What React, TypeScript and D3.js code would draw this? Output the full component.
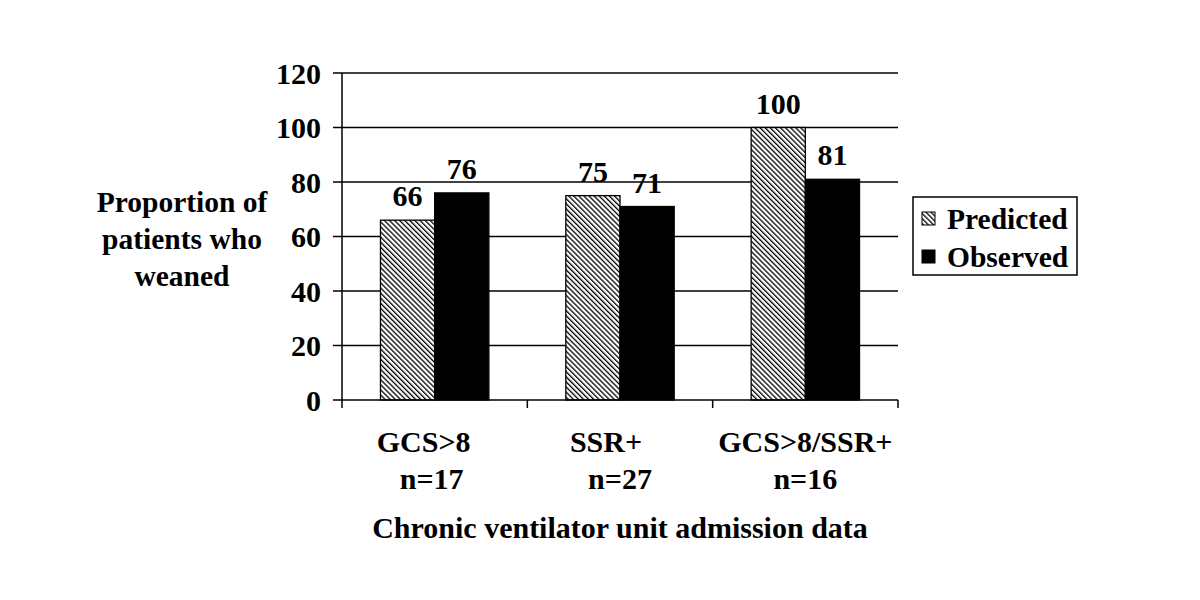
import React from "react";
import * as d3 from "d3";

const categories = ["GCS>8", "SSR+", "GCS>8/SSR+"];
const subLabels = ["n=17", "n=27", "n=16"];
const seriesNames = ["Predicted", "Observed"];
const predicted = [66, 75, 100];
const observed = [76, 71, 81];
const yTicks = [0, 20, 40, 60, 80, 100, 120];
const yTitleLines = ["Proportion of", "patients who", "weaned"];
const xTitle = "Chronic ventilator unit admission data";

// label nudges (layout only)
const catDx = [-11, -14, 0];
const subDx = [-3, 0, 0];

const W = 1200;
const H = 600;
const M = { left: 342, right: 898, top: 73, bottom: 400 };
const FONT = "'Liberation Serif', 'Times New Roman', serif";

export default function App() {
  const x = d3.scaleBand<string>().domain(categories).range([M.left, M.right]);
  const inner = d3
    .scaleBand<string>()
    .domain(seriesNames)
    .range([0, x.bandwidth()])
    .paddingInner(0)
    .paddingOuter(0.71);
  const y = d3.scaleLinear().domain([0, 120]).range([M.bottom, M.top]);
  const values = [predicted, observed];
  const fills = ["url(#hatch)", "#000"];

  return (
    <svg width={W} height={H} style={{ display: "block", position: "absolute", left: 0, top: 0 }} fontFamily={FONT} fontWeight="bold">
      <defs>
        <pattern id="hatch" width={3.6} height={3.6} patternUnits="userSpaceOnUse" patternTransform="rotate(-45)">
          <rect width={3.6} height={3.6} fill="#fff" />
          <rect x={0} y={0} width={1.3} height={3.6} fill="#000" />
        </pattern>
      </defs>
      <rect width={W} height={H} fill="#fff" />
      {/* grid lines */}
      {yTicks.filter((t) => t > 0).map((t) => (
        <line key={t} x1={M.left} x2={M.right} y1={y(t)} y2={y(t)} stroke="#000" strokeWidth={1.5} />
      ))}
      {/* bars */}
      {categories.map((c, i) =>
        seriesNames.map((s, j) => (
          <rect
            key={c + s}
            x={(x(c) as number) + (inner(s) as number)}
            y={y(values[j][i])}
            width={inner.bandwidth()}
            height={y(0) - y(values[j][i])}
            fill={fills[j]}
            stroke="#000"
            strokeWidth={1.3}
          />
        ))
      )}
      {/* value labels */}
      {categories.map((c, i) =>
        seriesNames.map((s, j) => (
          <text
            key={"l" + c + s}
            x={(x(c) as number) + (inner(s) as number) + inner.bandwidth() / 2}
            y={y(values[j][i]) - 14}
            textAnchor="middle"
            fontSize={30}
          >
            {values[j][i]}
          </text>
        ))
      )}
      {/* y axis */}
      <line x1={M.left} x2={M.left} y1={M.top} y2={M.bottom} stroke="#000" strokeWidth={1.5} />
      {yTicks.map((t) => (
        <g key={"yt" + t}>
          <line x1={M.left - 9} x2={M.left} y1={y(t)} y2={y(t)} stroke="#000" strokeWidth={1.5} />
          <text x={M.left - 21} y={y(t)} dy="0.35em" textAnchor="end" fontSize={30}>
            {t}
          </text>
        </g>
      ))}
      {/* x axis */}
      <line x1={M.left} x2={M.right} y1={M.bottom} y2={M.bottom} stroke="#000" strokeWidth={1.5} />
      {[...categories.map((c) => x(c) as number), M.right].map((px, i) => (
        <line key={"xt" + i} x1={px} x2={px} y1={M.bottom} y2={M.bottom + 8} stroke="#000" strokeWidth={1.5} />
      ))}
      {categories.map((c, i) => (
        <g key={"xl" + c}>
          <text x={(x(c) as number) + x.bandwidth() / 2 + catDx[i]} y={452} textAnchor="middle" fontSize={30}>
            {c}
          </text>
          <text x={(x(c) as number) + x.bandwidth() / 2 + subDx[i]} y={489} textAnchor="middle" fontSize={30}>
            {subLabels[i]}
          </text>
        </g>
      ))}
      {/* titles */}
      <text x={620} y={538} textAnchor="middle" fontSize={30}>
        {xTitle}
      </text>
      {yTitleLines.map((l, i) => (
        <text key={l} x={182} y={212 + i * 37} textAnchor="middle" fontSize={29.5}>
          {l}
        </text>
      ))}
      {/* legend */}
      <rect x={913} y={197} width={164} height={78} fill="#fff" stroke="#000" strokeWidth={1.5} />
      {seriesNames.map((s, j) => (
        <g key={"lg" + s}>
          <rect x={922} y={212 + j * 38} width={13} height={13} fill={fills[j]} stroke="#000" strokeWidth={1} />
          <text x={947} y={229 + j * 38} fontSize={29.5}>
            {s}
          </text>
        </g>
      ))}
    </svg>
  );
}
